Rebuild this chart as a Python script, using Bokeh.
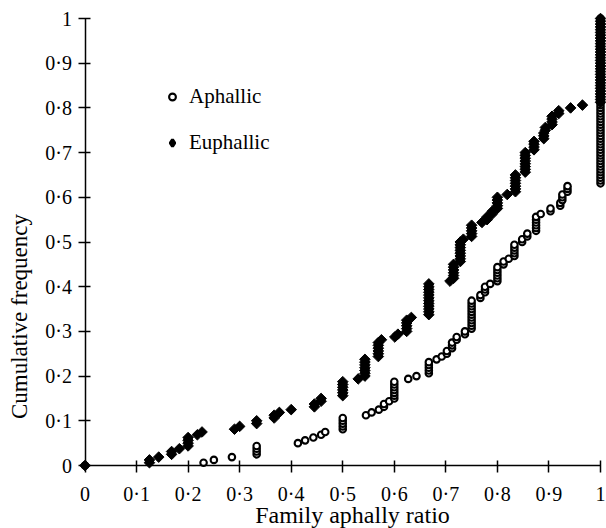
import math
from bokeh.plotting import figure
from bokeh.models import (Range1d, FixedTicker, CustomJSTickFormatter, Label,
                          Legend, LegendItem, LinearAxis)
from bokeh.embed import file_html
from bokeh.resources import INLINE

# ---------------- data ----------------
# family aphally ratio values and the number of families at each value
aph_ratio = [0.23, 0.25, 0.285, 0.333, 0.413, 0.427, 0.443, 0.458, 0.466, 0.5,
             0.545, 0.556, 0.57, 0.58, 0.59, 0.6, 0.627, 0.643, 0.667, 0.682,
             0.692, 0.702, 0.712, 0.721, 0.737, 0.75, 0.767, 0.776, 0.786, 0.8,
             0.812, 0.822, 0.833, 0.848, 0.858, 0.875, 0.884, 0.903, 0.922,
             0.926, 0.936, 1.0]
aph_count = [1, 1, 1, 4, 1, 1, 1, 1, 1, 5,
             1, 1, 1, 2, 1, 7, 1, 1, 5, 1,
             1, 2, 3, 2, 2, 11, 2, 3, 1, 6,
             2, 1, 5, 2, 2, 6, 1, 2, 2,
             3, 3, 60]

eu_ratio = [0.125, 0.143, 0.168, 0.183, 0.2, 0.218, 0.227, 0.29, 0.3, 0.333,
            0.367, 0.377, 0.4, 0.445, 0.458, 0.5, 0.53, 0.543, 0.569, 0.575,
            0.601, 0.607, 0.624, 0.633, 0.667, 0.708, 0.715, 0.728, 0.734, 0.75,
            0.77, 0.78, 0.79, 0.8, 0.819, 0.835, 0.854, 0.871, 0.89, 0.893,
            0.906, 0.919, 0.942, 0.965, 1.0]
eu_count = [2, 1, 2, 1, 4, 1, 1, 1, 1, 2,
            2, 1, 1, 2, 2, 6, 1, 7, 6, 1,
            1, 1, 5, 1, 12, 1, 6, 8, 1, 5,
            1, 2, 2, 5, 1, 7, 8, 4, 3, 2,
            4, 2, 1, 1, 31]

start_x = [0.0]
start_y = [0.0]

x_ticks = [0, 0.1, 0.2, 0.3, 0.4, 0.5, 0.6, 0.7, 0.8, 0.9, 1]
y_ticks = [0, 0.1, 0.2, 0.3, 0.4, 0.5, 0.6, 0.7, 0.8, 0.9, 1]

series_names = ["Aphallic", "Euphallic"]
x_title = "Family aphally ratio"
y_title = "Cumulative frequency"


def cumulative(ratios, counts):
    n = sum(counts)
    xs, ys = list(start_x), list(start_y)
    c = 0
    for r, k in zip(ratios, counts):
        for _ in range(k):
            c += 1
            xs.append(r)
            ys.append(c / n)
    return xs, ys


ax, ay = cumulative(aph_ratio, aph_count)
ex, ey = cumulative(eu_ratio, eu_count)

# ---------------- figure ----------------
FONT = "Liberation Serif"
W, H = 606, 528
X0, XS = 84.5, 515.5      # screen x of ratio 0, px per unit
Y0, YS = 465.0, 447.0     # screen y of frequency 0, px per unit

p = figure(width=W, height=H, output_backend="svg", toolbar_location=None,
           x_range=Range1d(-X0 / XS, (W - X0) / XS),
           y_range=Range1d(-(H - Y0) / YS, Y0 / YS),
           x_axis_location=None, y_axis_location=None,
           min_border=0)
p.outline_line_color = None
p.grid.visible = False

fmt = CustomJSTickFormatter(code="""
if (Math.abs(tick) < 1e-9) return "0";
if (Math.abs(tick - 1) < 1e-9) return "1";
return tick.toFixed(1).replace(".", "\\u00b7");
""")


def make_axis(ticks, standoff):
    a = LinearAxis(ticker=FixedTicker(ticks=ticks), formatter=fmt,
                   fixed_location=0, bounds=(0, 1))
    a.axis_line_color = "black"
    a.axis_line_width = 1.5
    a.major_tick_line_color = "black"
    a.major_tick_line_width = 1.5
    a.major_tick_in = 5
    a.major_tick_out = 7
    a.minor_tick_line_color = None
    a.major_label_text_font = FONT
    a.major_label_text_font_size = "20px"
    a.major_label_text_color = "black"
    a.major_label_standoff = standoff
    return a


p.add_layout(make_axis(x_ticks, 10), "below")
p.add_layout(make_axis(y_ticks, 6), "left")

r_aph = p.scatter(ax, ay, marker="circle", size=6.5, fill_color="white",
                  line_color="black", line_width=2.1)
r_eu = p.scatter(ex, ey, marker="square", angle=math.pi / 4, size=7.5,
                 fill_color="black", line_color="black", line_width=1)
# glyph used only for the legend key (diamond shape); it has no visible point
r_eu_key = p.scatter([float("nan")], [float("nan")], marker="diamond", size=8,
                     fill_color="black", line_color="black", line_width=3)

legend = Legend(items=[LegendItem(label=series_names[0], renderers=[r_aph]),
                       LegendItem(label=series_names[1], renderers=[r_eu_key])],
                location=(162, H - 154.5), orientation="vertical",
                glyph_width=20, glyph_height=17, label_height=20,
                label_standoff=7, spacing=21, padding=0, margin=0,
                background_fill_alpha=0, border_line_color=None,
                label_text_font=FONT, label_text_font_size="21px",
                label_text_color="black")
p.add_layout(legend)

p.add_layout(Label(x=(352 - X0) / XS, y=(Y0 - 514) / YS, text=x_title,
                   text_align="center", text_baseline="middle",
                   text_font=FONT, text_font_size="24px", text_color="black"))
p.add_layout(Label(x=(19 - X0) / XS, y=(Y0 - 316) / YS, text=y_title,
                   angle=math.pi / 2, text_align="center",
                   text_baseline="middle", text_font=FONT,
                   text_font_size="23px", text_color="black"))

open("out.html", "w").write(file_html(p, INLINE))
